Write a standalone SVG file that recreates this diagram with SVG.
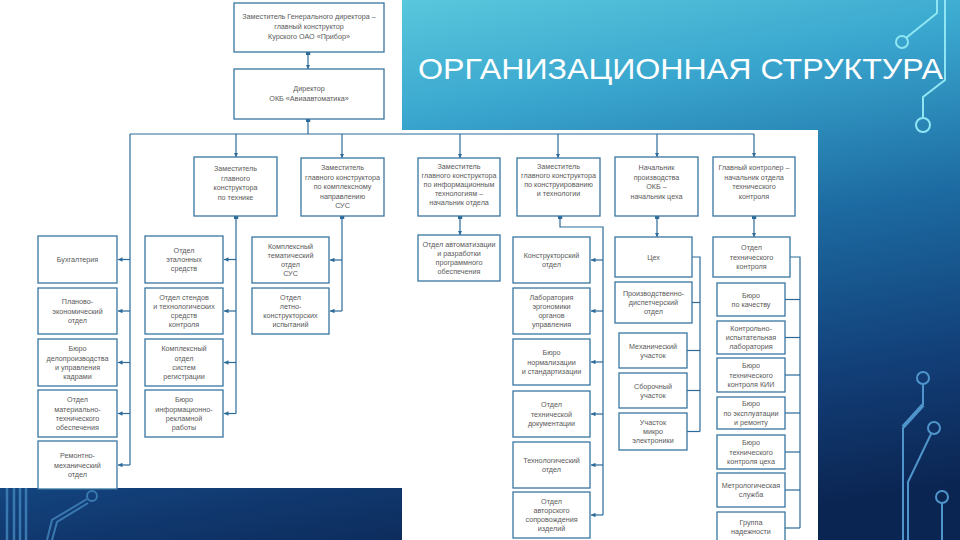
<svg xmlns="http://www.w3.org/2000/svg" width="960" height="540" viewBox="0 0 960 540">
<defs>
  <linearGradient id="bg" x1="0.35" y1="0" x2="0.65" y2="1">
    <stop offset="0" stop-color="#5ccadd"/>
    <stop offset="0.22" stop-color="#3aa7cf"/>
    <stop offset="0.5" stop-color="#1c6aa1"/>
    <stop offset="0.78" stop-color="#123e77"/>
    <stop offset="1" stop-color="#0b2552"/>
  </linearGradient>
  <marker id="arr" viewBox="0 0 6 6" refX="6" refY="3" markerWidth="4.5" markerHeight="4.5" markerUnits="userSpaceOnUse" orient="auto">
    <path d="M0,0 L6,3 L0,6 z" fill="#2b6a99"/>
  </marker>
  <marker id="blob" viewBox="0 0 4 6" refX="0" refY="3" markerWidth="3" markerHeight="5" markerUnits="userSpaceOnUse" orient="auto">
    <rect x="0" y="0" width="4" height="6" fill="#2b6a99"/>
  </marker>
  <style>
    .box { fill: #ffffff; stroke: #3876a2; stroke-width: 1.3; }
    .t { font-family: "Liberation Sans", Arial, sans-serif; font-size: 7.2px; fill: #5a5a5a; text-anchor: middle; }
    .c { fill: none; stroke: #2b6a99; stroke-width: 1.2; }
    .ca { fill: none; stroke: #2b6a99; stroke-width: 1.2; marker-end: url(#arr); }
    .cb { fill: none; stroke: #2b6a99; stroke-width: 1.2; marker-start: url(#blob); }
    .cba { fill: none; stroke: #2b6a99; stroke-width: 1.2; marker-start: url(#blob); marker-end: url(#arr); }
    .cir { fill: none; stroke: #8fe6f3; stroke-width: 2; }
    .cirb { fill: none; stroke: #4f95cc; stroke-width: 2; }
    .title { font-family: "Liberation Sans", Arial, sans-serif; font-size: 30px; fill: #ffffff; }
  </style>
</defs>

<!-- background -->
<rect x="0" y="0" width="960" height="540" fill="url(#bg)"/>

<!-- circuit decoration -->
<g id="decor">
  <path class="cir" d="M937,0 V13 L906,38"/>
  <circle class="cir" cx="902" cy="42" r="6"/>
  <path class="cir" d="M945,0 V80 L923,97 V118"/>
  <circle class="cir" cx="923" cy="125" r="7"/>
  <circle class="cirb" cx="923" cy="378" r="6"/>
  <path class="cirb" d="M923,384 V405"/>
  <path fill="none" stroke="#4f95cc" stroke-width="4" d="M923,405 L903,427"/>
  <path class="cirb" d="M903,427 V540"/>
  <circle class="cirb" cx="934" cy="428" r="6"/>
  <path class="cirb" d="M931,434 L908,482 V540"/>
  <circle class="cirb" cx="942" cy="497" r="6"/>
  <path class="cirb" d="M942,503 V540"/>
  <path fill="none" stroke="#3a78b0" stroke-width="2.5" d="M7,488 V540 M14,488 V540 M20,488 V540 M26,488 V540"/>
  <path fill="none" stroke="#3a78b0" stroke-width="2" d="M47,540 L52,520 L87,499 M52,540 L57,522 L88,503"/>
  <circle fill="none" stroke="#3a78b0" stroke-width="2" cx="92" cy="496" r="5"/>
</g>

<text class="title" x="418" y="79" textLength="525" lengthAdjust="spacingAndGlyphs">ОРГАНИЗАЦИОННАЯ СТРУКТУРА</text>

<!-- white chart panels -->
<rect x="0" y="0" width="402" height="488" fill="#ffffff"/>
<rect x="402" y="130" width="416" height="410" fill="#ffffff"/>

<!-- connectors -->
<g id="connectors">
  <path class="cba" d="M308,52 V69"/>
  <path class="cb" d="M308,119 V134"/>
  <path class="c" d="M130,134 H754"/>
  <path class="ca" d="M236,134 V157"/>
  <path class="ca" d="M342,134 V158"/>
  <path class="ca" d="M460,134 V158"/>
  <path class="ca" d="M558,134 V158"/>
  <path class="ca" d="M657,134 V157"/>
  <path class="ca" d="M754,134 V157"/>
  <!-- column A -->
  <path class="c" d="M130,134 V465"/>
  <path class="ca" d="M130,259.5 H118"/>
  <path class="ca" d="M130,311 H118"/>
  <path class="ca" d="M130,362.5 H118"/>
  <path class="ca" d="M130,413.5 H118"/>
  <path class="ca" d="M130,465 H118"/>
  <!-- column B -->
  <path class="cb" d="M236,216 V413.5"/>
  <path class="ca" d="M236,259.5 H224"/>
  <path class="ca" d="M236,311 H224"/>
  <path class="ca" d="M236,362.5 H224"/>
  <path class="ca" d="M236,413.5 H224"/>
  <!-- column B2 -->
  <path class="cb" d="M342,216 V311"/>
  <path class="ca" d="M342,260 H330"/>
  <path class="ca" d="M342,311 H330"/>
  <!-- column C1 -->
  <path class="cba" d="M460,216 V235"/>
  <!-- column C2 -->
  <path class="cb" d="M560,216 V227 H603 V515"/>
  <path class="ca" d="M603,260 H591"/>
  <path class="ca" d="M603,311 H591"/>
  <path class="ca" d="M603,362 H591"/>
  <path class="ca" d="M603,414 H591"/>
  <path class="ca" d="M603,465 H591"/>
  <path class="ca" d="M603,515 H591"/>
  <!-- column E -->
  <path class="cba" d="M657,216 V237"/>
  <path class="c" d="M692,257 H700 V431.5"/>
  <path class="c" d="M700,302.5 H692"/>
  <path class="c" d="M700,350.5 H687"/>
  <path class="c" d="M700,390.5 H687"/>
  <path class="c" d="M700,431.5 H687"/>
  <!-- column D -->
  <path class="cba" d="M754,216 V237"/>
  <path class="c" d="M790,257 H800 V528"/>
  <path class="c" d="M800,299.5 H785"/>
  <path class="c" d="M800,337.5 H785"/>
  <path class="c" d="M800,375 H785"/>
  <path class="c" d="M800,413 H785"/>
  <path class="c" d="M800,452 H785"/>
  <path class="c" d="M800,490 H785"/>
  <path class="c" d="M800,528 H785"/>
</g>

<!-- top -->
<g id="n-deputy-gd">
  <rect class="box" x="234" y="3" width="150" height="49"/>
  <text class="t"><tspan x="309" y="18.5">Заместитель Генерального директора –</tspan><tspan x="309" y="28.5">главный конструктор</tspan><tspan x="309" y="38.5">Курского ОАО «Прибор»</tspan></text>
</g>
<g id="n-director">
  <rect class="box" x="234" y="69" width="150" height="50"/>
  <text class="t"><tspan x="309" y="91">Директор</tspan><tspan x="309" y="100.5">ОКБ «Авиаавтоматика»</tspan></text>
</g>

<!-- column A -->
<g id="n-buh">
  <rect class="box" x="38" y="236" width="79" height="47"/>
  <text class="t"><tspan x="77.5" y="262.1">Бухгалтерия</tspan></text>
</g>
<g id="n-peo">
  <rect class="box" x="38" y="288" width="79" height="46"/>
  <text class="t"><tspan x="77.5" y="304.4">Планово-</tspan><tspan x="77.5" y="313.6">экономический</tspan><tspan x="77.5" y="322.8">отдел</tspan></text>
</g>
<g id="n-kadry">
  <rect class="box" x="38" y="339" width="79" height="47"/>
  <text class="t"><tspan x="77.5" y="351.3">Бюро</tspan><tspan x="77.5" y="360.5">делопроизводства</tspan><tspan x="77.5" y="369.7">и управления</tspan><tspan x="77.5" y="378.9">кадрами</tspan></text>
</g>
<g id="n-mto">
  <rect class="box" x="38" y="390" width="79" height="47"/>
  <text class="t"><tspan x="77.5" y="402.3">Отдел</tspan><tspan x="77.5" y="411.5">материально-</tspan><tspan x="77.5" y="420.7">технического</tspan><tspan x="77.5" y="429.9">обеспечения</tspan></text>
</g>
<g id="n-rmo">
  <rect class="box" x="38" y="441" width="79" height="48"/>
  <text class="t"><tspan x="77.5" y="458.4">Ремонтно-</tspan><tspan x="77.5" y="467.6">механический</tspan><tspan x="77.5" y="476.8">отдел</tspan></text>
</g>

<!-- column B -->
<g id="n-zgk-tech">
  <rect class="box" x="194" y="157" width="83" height="59"/>
  <text class="t"><tspan x="235.5" y="171">Заместитель</tspan><tspan x="235.5" y="180.5">главного</tspan><tspan x="235.5" y="190">конструктора</tspan><tspan x="235.5" y="199.5">по технике</tspan></text>
</g>
<g id="n-etalon">
  <rect class="box" x="145" y="236" width="78" height="47"/>
  <text class="t"><tspan x="184" y="252.9">Отдел</tspan><tspan x="184" y="262.1">эталонных</tspan><tspan x="184" y="271.3">средств</tspan></text>
</g>
<g id="n-stend">
  <rect class="box" x="145" y="288" width="78" height="46"/>
  <text class="t"><tspan x="184" y="299.8">Отдел стендов</tspan><tspan x="184" y="309">и технологических</tspan><tspan x="184" y="318.2">средств</tspan><tspan x="184" y="327.4">контроля</tspan></text>
</g>
<g id="n-registr">
  <rect class="box" x="145" y="339" width="78" height="47"/>
  <text class="t"><tspan x="184" y="351.3">Комплексный</tspan><tspan x="184" y="360.5">отдел</tspan><tspan x="184" y="369.7">систем</tspan><tspan x="184" y="378.9">регистрации</tspan></text>
</g>
<g id="n-info">
  <rect class="box" x="145" y="390" width="78" height="47"/>
  <text class="t"><tspan x="184" y="402.3">Бюро</tspan><tspan x="184" y="411.5">информационно-</tspan><tspan x="184" y="420.7">рекламной</tspan><tspan x="184" y="429.9">работы</tspan></text>
</g>

<!-- column B2 -->
<g id="n-zgk-sus">
  <rect class="box" x="301" y="158" width="83" height="58"/>
  <text class="t"><tspan x="342.5" y="170">Заместитель</tspan><tspan x="342.5" y="179.5">главного конструктора</tspan><tspan x="342.5" y="189">по комплексному</tspan><tspan x="342.5" y="198.5">направлению</tspan><tspan x="342.5" y="208">СУС</tspan></text>
</g>
<g id="n-kto-sus">
  <rect class="box" x="252" y="237" width="77" height="46"/>
  <text class="t"><tspan x="290.5" y="248.8">Комплексный</tspan><tspan x="290.5" y="258">тематический</tspan><tspan x="290.5" y="267.2">отдел</tspan><tspan x="290.5" y="276.4">СУС</tspan></text>
</g>
<g id="n-lki">
  <rect class="box" x="252" y="288" width="77" height="46"/>
  <text class="t"><tspan x="290.5" y="299.8">Отдел</tspan><tspan x="290.5" y="309">летно-</tspan><tspan x="290.5" y="318.2">конструкторских</tspan><tspan x="290.5" y="327.4">испытаний</tspan></text>
</g>

<!-- column C1 -->
<g id="n-zgk-it">
  <rect class="box" x="418" y="158" width="82" height="58"/>
  <text class="t"><tspan x="459" y="169">Заместитель</tspan><tspan x="459" y="178">главного конструктора</tspan><tspan x="459" y="187">по информационным</tspan><tspan x="459" y="196">технологиям –</tspan><tspan x="459" y="205">начальник отдела</tspan></text>
</g>
<g id="n-asu">
  <rect class="box" x="418" y="235" width="82" height="46"/>
  <text class="t"><tspan x="459" y="246.8">Отдел автоматизации</tspan><tspan x="459" y="256">и разработки</tspan><tspan x="459" y="265.2">программного</tspan><tspan x="459" y="274.4">обеспечения</tspan></text>
</g>

<!-- column C2 -->
<g id="n-zgk-kt">
  <rect class="box" x="517" y="158" width="83" height="58"/>
  <text class="t"><tspan x="558.5" y="169">Заместитель</tspan><tspan x="558.5" y="178">главного конструктора</tspan><tspan x="558.5" y="187">по конструированию</tspan><tspan x="558.5" y="196">и технологии</tspan></text>
</g>
<g id="n-ko">
  <rect class="box" x="513" y="237" width="77" height="46"/>
  <text class="t"><tspan x="551.5" y="258">Конструкторский</tspan><tspan x="551.5" y="267.2">отдел</tspan></text>
</g>
<g id="n-lab">
  <rect class="box" x="513" y="288" width="77" height="46"/>
  <text class="t"><tspan x="551.5" y="299.8">Лаборатория</tspan><tspan x="551.5" y="309">эргономики</tspan><tspan x="551.5" y="318.2">органов</tspan><tspan x="551.5" y="327.4">управления</tspan></text>
</g>
<g id="n-norm">
  <rect class="box" x="513" y="339" width="77" height="46"/>
  <text class="t"><tspan x="551.5" y="355.4">Бюро</tspan><tspan x="551.5" y="364.6">нормализации</tspan><tspan x="551.5" y="373.8">и стандартизации</tspan></text>
</g>
<g id="n-doc">
  <rect class="box" x="513" y="391" width="77" height="46"/>
  <text class="t"><tspan x="551.5" y="407.4">Отдел</tspan><tspan x="551.5" y="416.6">технической</tspan><tspan x="551.5" y="425.8">документации</tspan></text>
</g>
<g id="n-to">
  <rect class="box" x="513" y="442" width="77" height="46"/>
  <text class="t"><tspan x="551.5" y="463">Технологический</tspan><tspan x="551.5" y="472.2">отдел</tspan></text>
</g>
<g id="n-avt">
  <rect class="box" x="513" y="492" width="77" height="46"/>
  <text class="t"><tspan x="551.5" y="503.8">Отдел</tspan><tspan x="551.5" y="513">авторского</tspan><tspan x="551.5" y="522.2">сопровождения</tspan><tspan x="551.5" y="531.4">изделий</tspan></text>
</g>

<!-- column E -->
<g id="n-nach-proizv">
  <rect class="box" x="615" y="157" width="83" height="59"/>
  <text class="t"><tspan x="656.5" y="170">Начальник</tspan><tspan x="656.5" y="179.5">производства</tspan><tspan x="656.5" y="189">ОКБ –</tspan><tspan x="656.5" y="198.5">начальник цеха</tspan></text>
</g>
<g id="n-ceh">
  <rect class="box" x="615" y="237" width="77" height="40"/>
  <text class="t"><tspan x="653.5" y="259.6">Цех</tspan></text>
</g>
<g id="n-pdo">
  <rect class="box" x="615" y="282" width="77" height="41"/>
  <text class="t"><tspan x="653.5" y="295.9">Производственно-</tspan><tspan x="653.5" y="305.1">диспетчерский</tspan><tspan x="653.5" y="314.3">отдел</tspan></text>
</g>
<g id="n-meh">
  <rect class="box" x="619" y="333" width="68" height="35"/>
  <text class="t"><tspan x="653" y="348.5">Механический</tspan><tspan x="653" y="357.7">участок</tspan></text>
</g>
<g id="n-sbor">
  <rect class="box" x="619" y="373" width="68" height="35"/>
  <text class="t"><tspan x="653" y="388.5">Сборочный</tspan><tspan x="653" y="397.7">участок</tspan></text>
</g>
<g id="n-micro">
  <rect class="box" x="619" y="413" width="68" height="37"/>
  <text class="t"><tspan x="653" y="424.9">Участок</tspan><tspan x="653" y="434.1">микро</tspan><tspan x="653" y="443.3">электроники</tspan></text>
</g>

<!-- column D -->
<g id="n-gl-kontr">
  <rect class="box" x="713" y="157" width="82" height="59"/>
  <text class="t"><tspan x="754" y="170">Главный контролер –</tspan><tspan x="754" y="179.5">начальник отдела</tspan><tspan x="754" y="189">технического</tspan><tspan x="754" y="198.5">контроля</tspan></text>
</g>
<g id="n-otk">
  <rect class="box" x="713" y="237" width="77" height="40"/>
  <text class="t"><tspan x="751.5" y="250.4">Отдел</tspan><tspan x="751.5" y="259.6">технического</tspan><tspan x="751.5" y="268.8">контроля</tspan></text>
</g>
<g id="n-kach">
  <rect class="box" x="717" y="283" width="68" height="33"/>
  <text class="t"><tspan x="751" y="297.5">Бюро</tspan><tspan x="751" y="306.7">по качеству</tspan></text>
</g>
<g id="n-kil">
  <rect class="box" x="717" y="321" width="68" height="33"/>
  <text class="t"><tspan x="751" y="330.9">Контрольно-</tspan><tspan x="751" y="340.1">испытательная</tspan><tspan x="751" y="349.3">лаборатория</tspan></text>
</g>
<g id="n-btk-kii">
  <rect class="box" x="717" y="358" width="68" height="34"/>
  <text class="t"><tspan x="751" y="368.4">Бюро</tspan><tspan x="751" y="377.6">технического</tspan><tspan x="751" y="386.8">контроля КИИ</tspan></text>
</g>
<g id="n-expl">
  <rect class="box" x="717" y="397" width="68" height="32"/>
  <text class="t"><tspan x="751" y="406.4">Бюро</tspan><tspan x="751" y="415.6">по эксплуатации</tspan><tspan x="751" y="424.8">и ремонту</tspan></text>
</g>
<g id="n-btk-ceh">
  <rect class="box" x="717" y="435" width="68" height="34"/>
  <text class="t"><tspan x="751" y="445.4">Бюро</tspan><tspan x="751" y="454.6">технического</tspan><tspan x="751" y="463.8">контроля цеха</tspan></text>
</g>
<g id="n-metr">
  <rect class="box" x="717" y="473" width="68" height="34"/>
  <text class="t"><tspan x="751" y="488">Метрологическая</tspan><tspan x="751" y="497.2">служба</tspan></text>
</g>
<g id="n-nadezh">
  <rect class="box" x="717" y="512" width="68" height="34"/>
  <text class="t"><tspan x="751" y="524.5">Группа</tspan><tspan x="751" y="533.5">надежности</tspan></text>
</g>
</svg>
